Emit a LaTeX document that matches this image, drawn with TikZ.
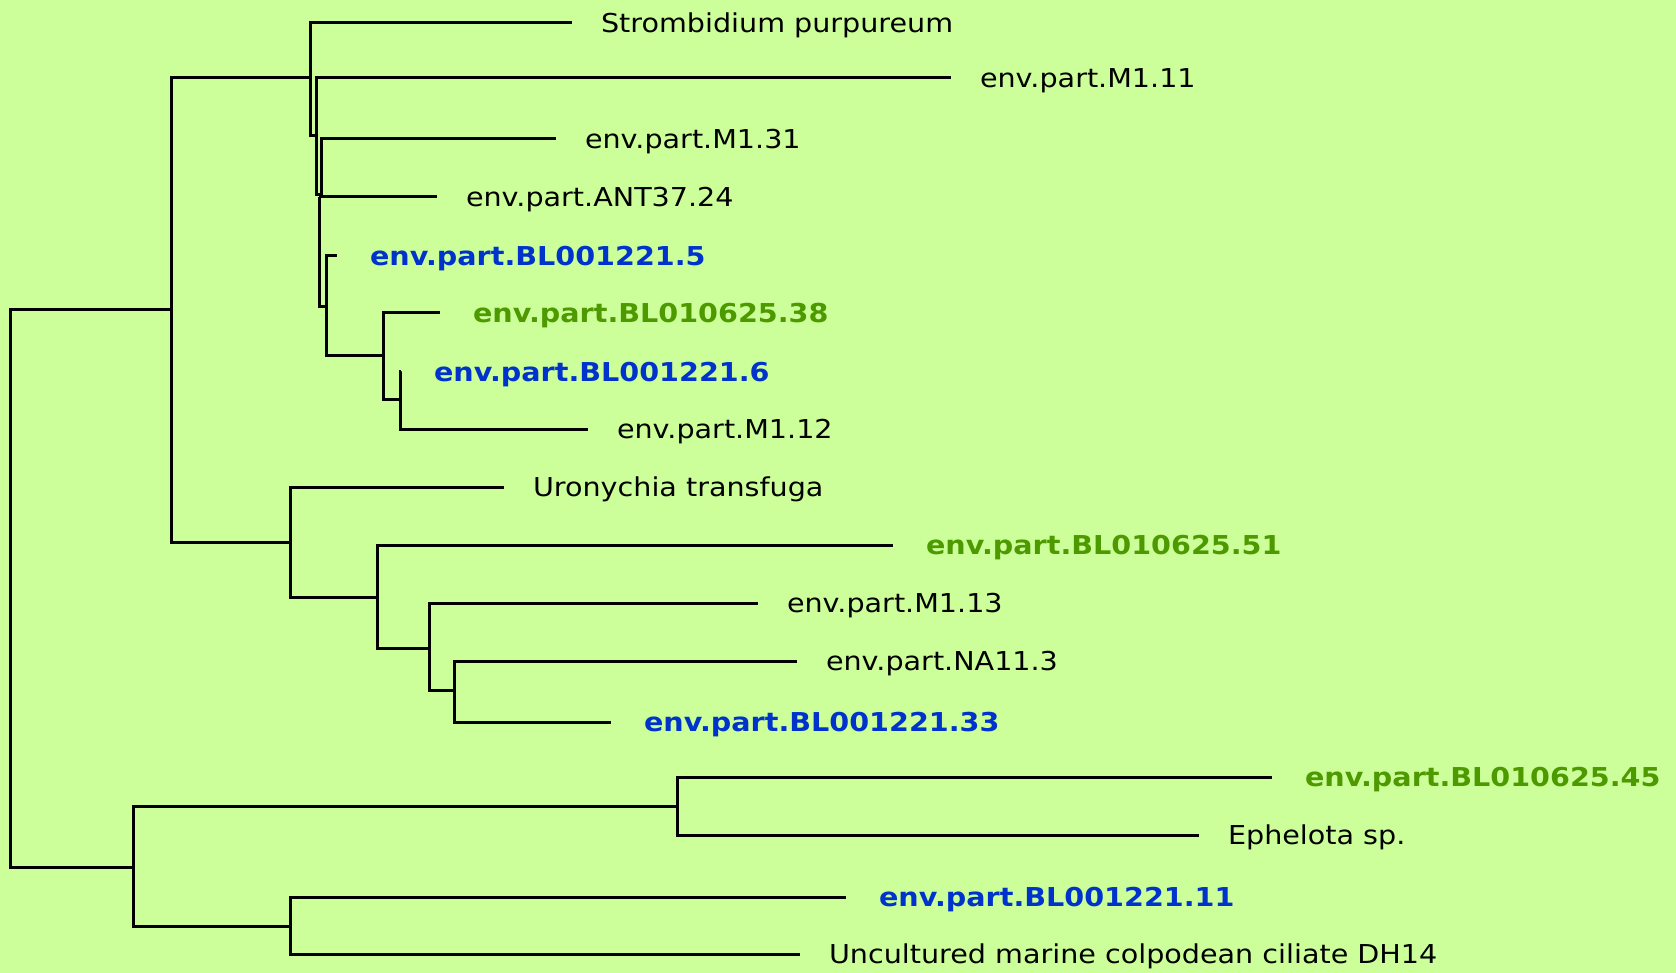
\documentclass[tikz,border=0pt]{standalone}
\usepackage{fontspec}
\newfontfamily\labfont[FakeStretch=1.1]{DejaVu Sans}
\definecolor{bgleaf}{RGB}{204,255,153}
\definecolor{seqblue}{RGB}{0,51,204}
\definecolor{seqgreen}{RGB}{77,153,0}
\begin{document}
\begin{tikzpicture}[x=1pt,y=-1pt,
  branch/.style={line width=3pt, line join=miter},
  taxon/.style={anchor=west, inner sep=0pt, outer ysep=0pt, outer xsep=29pt,
    text height=19pt, text depth=0pt, font=\labfont\fontsize{26}{30}\selectfont},
  clone/.style={taxon, outer xsep=33pt, font=\labfont\bfseries\fontsize{26}{30}\selectfont},
  blueclone/.style={clone, text=seqblue},
  greenclone/.style={clone, text=seqgreen}]

% background
\fill[bgleaf] (0,0) rectangle (1676,973);
\useasboundingbox (0,0) rectangle (1676,973);

% internal nodes (x = depth, y = where the parent branch joins)
\coordinate (root) at (10,588);
\coordinate (A) at (171,310);
\coordinate (P) at (310,78);
\coordinate (Q) at (316,136);
\coordinate (R) at (321,195);
\coordinate (S) at (319,197);
\coordinate (T) at (326,307);
\coordinate (V) at (383,356);
\coordinate (W) at (400,400);
\coordinate (U) at (290,542);
\coordinate (X) at (377,597);
\coordinate (Y) at (429,648);
\coordinate (Z) at (454,690);
\coordinate (B) at (133,867);
\coordinate (C) at (677,806);
\coordinate (D) at (290,926);

% leaves: the west anchor is the tip of the branch
\node[taxon]      (strom) at (572,23)  {Strombidium purpureum};
\node[taxon]      (m111)  at (951,78)  {env.part.M1.11};
\node[taxon]      (m131)  at (556,139) {env.part.M1.31};
\node[taxon]      (ant)   at (437,197) {env.part.ANT37.24};
\node[blueclone]  (bl5)   at (337,256) {env.part.BL001221.5};
\node[greenclone] (bl38)  at (440,313) {env.part.BL010625.38};
\node[blueclone]  (bl6)   at (401,372) {env.part.BL001221.6};
\node[taxon]      (m112)  at (588,429) {env.part.M1.12};
\node[taxon]      (uro)   at (504,487) {Uronychia transfuga};
\node[greenclone] (bl51)  at (893,545) {env.part.BL010625.51};
\node[taxon]      (m113)  at (758,603) {env.part.M1.13};
\node[taxon]      (na113) at (797,661) {env.part.NA11.3};
\node[blueclone]  (bl33)  at (611,722) {env.part.BL001221.33};
\node[greenclone] (bl45)  at (1272,777) {env.part.BL010625.45};
\node[taxon]      (eph)   at (1199,835) {Ephelota sp.};
\node[blueclone]  (bl11)  at (846,897) {env.part.BL001221.11};
\node[taxon]      (unc)   at (800,954) {Uncultured marine colpodean ciliate DH14};

% branches between internal nodes
\foreach \p/\c in {root/A, root/B, A/P, A/U, P/Q, Q/R, R/S, S/T, T/V, V/W,
                   U/X, X/Y, Y/Z, B/C, B/D}
  \draw[branch] (\p) |- (\c);

% terminal branches
\foreach \p/\c in {P/strom, Q/m111, R/m131, S/ant, T/bl5, V/bl38, W/bl6, W/m112,
                   U/uro, X/bl51, Y/m113, Z/na113, Z/bl33, C/bl45, C/eph,
                   D/bl11, D/unc}
  \draw[branch] (\p) |- (\c.west);
\end{tikzpicture}
\end{document}
